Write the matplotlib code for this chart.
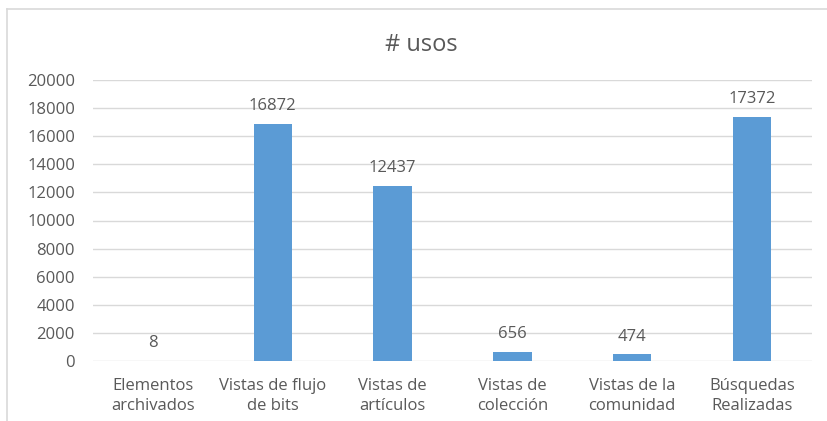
import matplotlib.pyplot as plt
from matplotlib.lines import Line2D

# data
categories = ['Elementos\narchivados', 'Vistas de flujo\nde bits', 'Vistas de\nartículos',
              'Vistas de\ncolección', 'Vistas de la\ncomunidad', 'Búsquedas\nRealizadas']
usos = [8, 16872, 12437, 656, 474, 17372]
yticks = list(range(0, 20001, 2000))

gray = '#595959'
plt.rcParams['font.family'] = ['Open Sans', 'DejaVu Sans']

fig = plt.figure(figsize=(8.28, 4.21), dpi=100)
ax = fig.add_axes([93 / 828, 1 - 361 / 421, 719 / 828, 281 / 421])

x = list(range(len(categories)))
ax.bar(x, usos, width=0.32, color='#5B9BD5', zorder=3)
for xi, v in zip(x, usos):
    ax.text(xi, v + 700, str(v), ha='center', va='bottom', fontsize=12, color=gray)

ax.set_xlim(-0.5, len(categories) - 0.5)
ax.set_ylim(0, 20000)
ax.set_yticks(yticks)
ax.set_yticklabels([str(t) for t in yticks])
ax.set_xticks(x)
ax.set_xticklabels(categories, linespacing=1.4)
ax.tick_params(axis='both', length=0, colors=gray, labelsize=12)
ax.tick_params(axis='y', pad=13)
ax.tick_params(axis='x', pad=12)
ax.grid(axis='y', color='#D9D9D9', linewidth=1, zorder=0)
for s in ax.spines.values():
    s.set_visible(False)

fig.text(421 / 828, 1 - 45 / 421, '# usos', ha='center', va='center', fontsize=17, color=gray)

# chart frame (only left and top edges are visible in the reference)
fig.add_artist(Line2D([7 / 828, 7 / 828], [0, 1 - 9 / 421], transform=fig.transFigure, color='#D9D9D9', lw=1.2))
fig.add_artist(Line2D([7 / 828, 1], [1 - 9 / 421, 1 - 9 / 421], transform=fig.transFigure, color='#D9D9D9', lw=1.2))

fig.savefig('out.png', dpi=100)
